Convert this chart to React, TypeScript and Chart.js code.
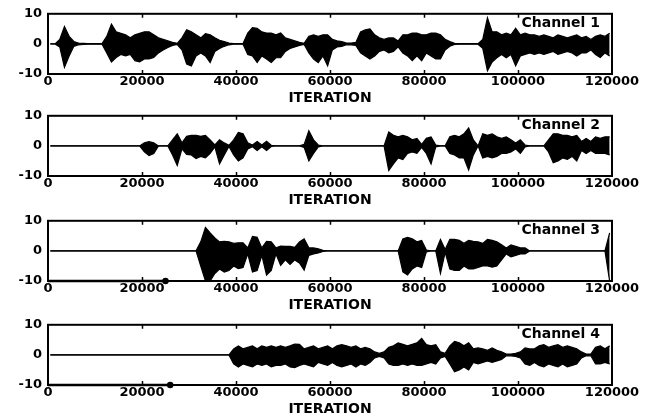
import React, { useEffect, useRef } from "react";
import { Chart, registerables } from "chart.js";

Chart.register(...registerables);

const X_MIN = 0;
const X_MAX = 120000;
const X_STEP = 20000;
const Y_MIN = -10;
const Y_MAX = 10;
const Y_STEP = 10;
const BIN = 1000;
const X_TITLE = "ITERATION";
const CHANNEL_NAMES = ["Channel 1", "Channel 2", "Channel 3", "Channel 4"];

// Upper / lower envelope of each channel, one value per 1000 iterations
const CH1_HI = [
  0, 0, 1.5, 5.8, 2.5, 0.8, 0.3, 0.2, 0.1, 0.1,
  0.1, 0.1, 2.5, 6.6, 4, 3.5, 3, 2, 3, 3.5,
  4, 4, 3, 2, 1.5, 1, 0.5, 0.2, 2, 4.7,
  4, 3, 2, 3.4, 3, 2, 1.2, 0.8, 0.3, 0.1,
  0.1, 0.1, 3.6, 5.4, 5.2, 4, 3.6, 3.6, 3, 3.6,
  2, 1.5, 1, 0.5, 0.2, 2.5, 3, 2.5, 3, 3,
  1.5, 1, 0.8, 0.3, 0.3, 0.5, 4, 4.7, 5, 3,
  2, 1.5, 2, 2, 1, 3, 3, 3.6, 3.6, 3,
  3, 3.6, 3.6, 3, 1.5, 0.8, 0.2, 0.1, 0.1, 0.1,
  0.1, 0.1, 1.5, 8.7, 4, 4, 3, 3.6, 3, 5.2,
  3, 3.6, 3, 3, 2.5, 3, 2.5, 2, 3, 2.5,
  2, 2.5, 3, 2, 2.5, 1.5, 2.5, 3, 2.5, 3.5,
];
const CH1_LO = [
  0, 0, -1, -7.8, -4, -0.8, -0.3, -0.2, -0.1, -0.1,
  -0.1, -0.1, -3, -6, -4.5, -3.5, -4, -3.5, -5.6, -6,
  -5, -5, -4.5, -3, -2, -1.2, -0.5, -0.2, -2, -6.7,
  -7.3, -4, -3, -4, -6.2, -2.5, -1.5, -0.8, -0.3, -0.1,
  -0.1, -0.1, -3.5, -4, -6.2, -4, -5, -6.2, -4.6, -4.6,
  -2.5, -1.5, -1, -0.5, -0.2, -3, -5, -6.2, -4, -7.3,
  -2, -1, -0.8, -0.3, -0.3, -0.5, -3, -4, -5, -4,
  -2.5, -2, -3, -2.5, -1, -3, -4, -5.6, -4, -5.6,
  -3, -4, -5, -5, -2, -0.8, -0.2, -0.1, -0.1, -0.1,
  -0.1, -0.1, -1.5, -8.9, -6, -4.6, -3.5, -4.6, -3.5, -7.3,
  -4, -3.5, -3, -3.5, -3, -3.5, -3, -2.5, -3.5, -3,
  -2.5, -3, -4, -3, -3, -2, -3.5, -4.5, -3, -4,
];

const CH2_HI = [
  0, 0, 0, 0, 0, 0, 0, 0, 0, 0,
  0, 0, 0, 0, 0, 0, 0, 0, 0, 0,
  1, 1.4, 1, 0, 0, 0, 2, 4, 1, 3.2,
  3.5, 3.5, 3.2, 3.5, 2, 0.3, 2, 1, 0.2, 2,
  4.5, 4, 1, 0.3, 1.5, 0.3, 1.5, 0.2, 0, 0,
  0, 0, 0, 0, 0.5, 5, 2, 0.3, 0, 0,
  0, 0, 0, 0, 0, 0, 0, 0, 0, 0,
  0, 0, 4.6, 3.5, 3, 3.5, 3, 2, 2.5, 0.5,
  2.5, 3, 0.3, 0, 0, 3, 3.5, 3, 4, 6,
  2, 0, 4, 3.5, 4, 3, 2.5, 3, 2, 1,
  2, 0.3, 0, 0, 0, 0, 2, 4, 4, 3.5,
  3.5, 3, 3.5, 1.5, 2.5, 1.5, 3, 2.5, 3, 3,
];
const CH2_LO = [
  0, 0, 0, 0, 0, 0, 0, 0, 0, 0,
  0, 0, 0, 0, 0, 0, 0, 0, 0, 0,
  -2, -3.2, -2.5, 0, 0, 0, -3, -6.5, -1, -2.8,
  -3, -4.2, -3.5, -4, -2.5, -0.3, -6, -3, -0.2, -3,
  -5, -4, -1, -0.3, -1.5, -0.3, -1.5, -0.2, 0, 0,
  0, 0, 0, 0, -0.5, -5, -2.5, -0.3, 0, 0,
  0, 0, 0, 0, 0, 0, 0, 0, 0, 0,
  0, 0, -8.2, -6, -4, -4.5, -2.5, -2, -2.5, -0.5,
  -2.5, -6, -0.3, 0, 0, -2.5, -3, -4, -4, -8,
  -3, 0, -4, -3.5, -4, -3.5, -2.5, -2.5, -2, -1,
  -2.5, -0.3, 0, 0, 0, 0, -2, -5.6, -5, -4,
  -4.5, -3.5, -5, -1.5, -2.5, -1.5, -2.5, -2.5, -2.5, -3,
];

const CH3_HI = [
  0, 0, 0, 0, 0, 0, 0, 0, 0, 0,
  0, 0, 0, 0, 0, 0, 0, 0, 0, 0,
  0, 0, 0, 0, 0, 0, 0, 0, 0, 0,
  0, 0, 3, 7.8, 6, 4.3, 3, 3.2, 3, 2.5,
  2.7, 2.7, 1, 4.8, 4.5, 1, 3.2, 3, 1, 1.6,
  1.5, 1.5, 1.2, 3, 4, 1, 1, 0.7, 0.2, 0,
  0, 0, 0, 0, 0, 0, 0, 0, 0, 0,
  0, 0, 0, 0, 0, 4, 4.5, 4, 3, 3.5,
  0.3, 0, 0, 3.8, 0.5, 3.8, 3.8, 3.5, 2.5, 3.5,
  3.2, 3, 2.5, 3.8, 3.5, 3, 2, 1, 2, 1.5,
  1, 1, 0, 0, 0, 0, 0, 0, 0, 0,
  0, 0, 0, 0, 0, 0, 0, 0, 0, 6,
];
const CH3_LO = [
  0, 0, 0, 0, 0, 0, 0, 0, 0, 0,
  0, 0, 0, 0, 0, 0, 0, 0, 0, 0,
  0, 0, 0, 0, 0, 0, 0, 0, 0, 0,
  0, 0, -5, -10, -10, -7.5, -6, -7, -6.5, -5,
  -5.9, -5.5, -1, -7, -6.5, -1.5, -8, -6.5, -1, -4.8,
  -3, -4.5, -3, -4, -6.4, -1.5, -1, -0.7, -0.2, 0,
  0, 0, 0, 0, 0, 0, 0, 0, 0, 0,
  0, 0, 0, 0, 0, -7, -8, -6, -5, -5.5,
  -0.3, 0, 0, -7.5, -0.5, -6, -6.5, -6.5, -5, -6,
  -6, -5.5, -5, -5, -5.4, -5, -3, -1, -2, -1.5,
  -1, -1, 0, 0, 0, 0, 0, 0, 0, 0,
  0, 0, 0, 0, 0, 0, 0, 0, 0, -10,
];

const CH4_HI = [
  0, 0, 0, 0, 0, 0, 0, 0, 0, 0,
  0, 0, 0, 0, 0, 0, 0, 0, 0, 0,
  0, 0, 0, 0, 0, 0, 0, 0, 0, 0,
  0, 0, 0, 0, 0, 0, 0, 0, 0, 2,
  3, 2, 2.5, 3, 2, 3, 2.5, 3, 2.5, 3,
  2.5, 3, 3.6, 3.5, 2, 2.5, 3, 2, 2.5, 3,
  2, 3, 3.4, 3, 2.5, 3, 2, 2.5, 2, 1,
  0.5, 1, 2.5, 3, 4, 3.5, 3, 3.5, 4, 5.5,
  3.4, 3, 3.4, 1, 0.5, 3, 4.5, 4, 3, 4,
  2, 2.3, 2, 1.5, 2.3, 1.5, 1, 0.3, 0.3, 0.5,
  1, 2.3, 2, 2, 3, 3.4, 2.5, 3, 3.4, 2.5,
  3, 2.5, 2, 1, 0.3, 0.3, 2.5, 3, 2, 3,
];
const CH4_LO = [
  0, 0, 0, 0, 0, 0, 0, 0, 0, 0,
  0, 0, 0, 0, 0, 0, 0, 0, 0, 0,
  0, 0, 0, 0, 0, 0, 0, 0, 0, 0,
  0, 0, 0, 0, 0, 0, 0, 0, 0, -3,
  -4, -3, -3.5, -4, -3, -3.5, -3, -4, -3.5, -3.5,
  -3, -4, -4.2, -3.5, -3, -3.5, -4, -2.5, -3, -3.5,
  -2.5, -3.5, -4, -3.5, -3, -4, -3, -3.5, -2.5, -1,
  -0.5, -1, -3, -3.5, -3.5, -3, -3.5, -3, -3.5, -3.5,
  -3, -2.5, -3, -1, -0.5, -3, -5.6, -5, -4, -5,
  -2.5, -3, -2.5, -2, -2.5, -2, -1.5, -0.3, -0.3, -0.5,
  -1, -3, -3.5, -2.5, -3.5, -4, -3, -3.5, -4, -3,
  -4, -3.5, -3, -1, -0.3, -0.3, -3, -3, -2.5, -3,
];

// Early segment resting on -10 (channels 3 and 4)
const LOW_LEVEL = -10;
const CH3_LOW_X = [0, 25000];
const CH4_LOW_X = [0, 26000];

const HI = [CH1_HI, CH2_HI, CH3_HI, CH4_HI];
const LO = [CH1_LO, CH2_LO, CH3_LO, CH4_LO];
const LOW_X: (number[] | null)[] = [null, null, CH3_LOW_X, CH4_LOW_X];

// chart-area top of each panel in page pixels
const PLOT_TOPS = [12, 114, 219, 323];
const PLOT_H = 62;
const PAD_TOP = 12;
const X_AXIS_H = 33;
const LEFT = 48;
const RIGHT_PAD = 43;
const W = 655;

const FONT = "DejaVu Sans";

function series(vals: number[], offset: number) {
  return vals.map((y, i) => ({ x: i * BIN + offset, y }));
}

const framePlugin = {
  id: "frame",
  afterDatasetsDraw(chart: any, _args: any, opts: any) {
    const { ctx, chartArea } = chart;
    const { left, right, top, bottom } = chartArea;
    const xs = chart.scales.x;
    ctx.save();
    ctx.strokeStyle = "#000";
    ctx.lineWidth = 2;
    ctx.strokeRect(left, top, right - left, bottom - top);
    ctx.lineWidth = 1.5;
    ctx.beginPath();
    for (let v = X_MIN + X_STEP; v < X_MAX; v += X_STEP) {
      const px = Math.round(xs.getPixelForValue(v)) + 0.5;
      ctx.moveTo(px, top);
      ctx.lineTo(px, top + 4);
      ctx.moveTo(px, bottom);
      ctx.lineTo(px, bottom - 4);
    }
    ctx.stroke();
    ctx.fillStyle = "#000";
    ctx.font = `bold 14px "${FONT}"`;
    ctx.textAlign = "right";
    ctx.textBaseline = "alphabetic";
    ctx.fillText(opts.label, right - 12, top + 13.5);
    ctx.restore();
  },
};

function Panel({ index }: { index: number }) {
  const ref = useRef<HTMLCanvasElement | null>(null);
  useEffect(() => {
    const canvas = ref.current;
    if (!canvas) return;
    const datasets: any[] = [
      {
        data: series(HI[index], BIN / 2),
        borderColor: "#000",
        borderWidth: 1.2,
        pointRadius: 0,
        tension: 0,
        fill: false,
      },
      {
        data: series(LO[index], BIN / 2),
        borderColor: "#000",
        backgroundColor: "#000",
        borderWidth: 1.2,
        pointRadius: 0,
        tension: 0,
        fill: "-1",
      },
    ];
    const lx = LOW_X[index];
    if (lx) {
      datasets.push({
        data: lx.map((x) => ({ x, y: LOW_LEVEL })),
        borderColor: "#000",
        backgroundColor: "#000",
        borderWidth: 2.5,
        pointRadius: [0, 2],
        tension: 0,
        clip: false,
        fill: false,
      });
    }
    const chart = new Chart(canvas, {
      type: "line",
      data: { datasets },
      options: {
        animation: false,
        responsive: false,
        maintainAspectRatio: false,
        layout: { padding: { top: PAD_TOP, right: RIGHT_PAD, left: 0, bottom: 0 } },
        plugins: {
          legend: { display: false },
          tooltip: { enabled: false },
          filler: { propagate: false },
          frame: { label: CHANNEL_NAMES[index] },
        } as any,
        scales: {
          x: {
            type: "linear",
            min: X_MIN,
            max: X_MAX,
            grid: { display: false, drawTicks: false },
            border: { display: false },
            ticks: {
              stepSize: X_STEP,
              padding: 0,
              color: "#000",
              maxRotation: 0,
              autoSkip: false,
              font: { family: FONT, size: 13, weight: "bold" },
              callback: (v: any) => String(v),
            },
            title: {
              display: true,
              text: X_TITLE,
              color: "#000",
              padding: { top: 0, bottom: 0 },
              font: { family: FONT, size: 14, weight: "bold" },
            },
            afterFit: (s: any) => {
              s.height = X_AXIS_H;
            },
          },
          y: {
            min: Y_MIN,
            max: Y_MAX,
            grid: { display: false, drawTicks: false },
            border: { display: false },
            ticks: {
              stepSize: Y_STEP,
              padding: 6,
              color: "#000",
              font: { family: FONT, size: 13, weight: "bold" },
              callback: (v: any) => String(v),
            },
            afterFit: (s: any) => {
              s.width = LEFT;
            },
          },
        },
      } as any,
      plugins: [framePlugin],
    });
    return () => chart.destroy();
  }, [index]);
  const h = PAD_TOP + PLOT_H + X_AXIS_H;
  return (
    <canvas
      ref={ref}
      width={W}
      height={h}
      style={{ position: "absolute", left: 0, top: PLOT_TOPS[index] - PAD_TOP, width: W, height: h }}
    />
  );
}

export default function App() {
  return (
    <div style={{ position: "absolute", left: 0, top: 0, width: W, height: 418, background: "#fff", overflow: "hidden" }}>
      {[0, 1, 2, 3].map((i) => (
        <Panel key={i} index={i} />
      ))}
    </div>
  );
}
